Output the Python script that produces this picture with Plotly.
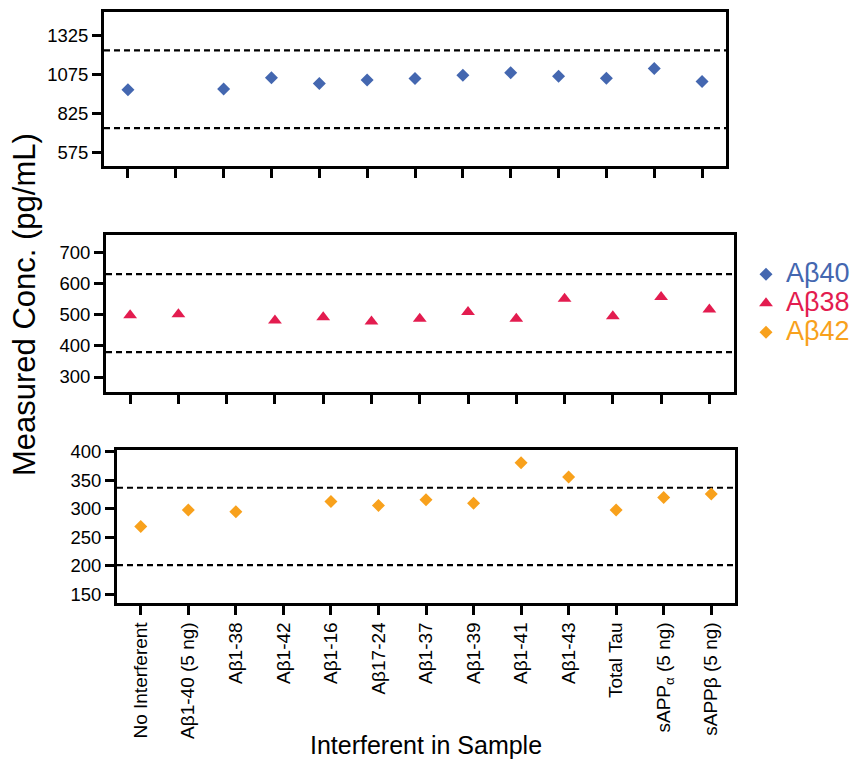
import plotly.graph_objects as go

categories = ["No Interferent", "Aβ1-40 (5 ng)", "Aβ1-38", "Aβ1-42", "Aβ1-16", "Aβ17-24",
              "Aβ1-37", "Aβ1-39", "Aβ1-41", "Aβ1-43", "Total Tau",
              "sAPP<sub>α</sub> (5 ng)", "sAPPβ (5 ng)"]

ab40 = [977, None, 982, 1054, 1016, 1039, 1048, 1069, 1086, 1063, 1050, 1112, 1029]
ab38 = [499, 502, None, 482, 493, 479, 488, 510, 488, 552, 496, 558, 518]
ab42 = [269, 298, 295, None, 313, 306, 316, 310, 381, 356, 298, 320, 326]

ref40 = [1229, 732]
ref38 = [632, 380]
ref42 = [337, 201]

ticks40 = [575, 825, 1075, 1325]
ticks38 = [300, 400, 500, 600, 700]
ticks42 = [150, 200, 250, 300, 350, 400]

C40 = "#4467B0"
C38 = "#E31C4F"
C42 = "#F8A11C"
FONT = "Liberation Sans, Arial, sans-serif"

W, H = 856, 761
x_idx = list(range(len(categories)))

def lg(name, color):
    return f"<span style='color:{color};font-size:27px'>{name}</span>"

fig = go.Figure()
fig.add_trace(go.Scatter(x=x_idx, y=ab40, mode="markers", xaxis="x", yaxis="y",
                         marker=dict(symbol="diamond", size=10, color=C40),
                         name=lg("Aβ40", C40)))
fig.add_trace(go.Scatter(x=x_idx, y=ab38, mode="markers", xaxis="x2", yaxis="y2",
                         marker=dict(symbol="triangle-up", size=12, color=C38),
                         name=lg("Aβ38", C38)))
fig.add_trace(go.Scatter(x=x_idx, y=ab42, mode="markers", xaxis="x3", yaxis="y3",
                         marker=dict(symbol="diamond", size=10, color=C42),
                         name=lg("Aβ42", C42)))

def px_dom_x(a, b):
    return [a / W, b / W]

def px_dom_y(top, bottom):
    return [1 - bottom / H, 1 - top / H]

axis_common = dict(showline=True, linecolor="black", linewidth=3, mirror=True,
                   ticks="outside", ticklen=9, tickwidth=2.5, tickcolor="black",
                   showgrid=False, zeroline=False)
yfont = dict(family=FONT, size=18.5, color="black")
xfont = dict(family=FONT, size=19, color="black")

xrange = [-0.5, 12.5]

layout = dict(
    width=W, height=H, autosize=False,
    margin=dict(l=0, r=0, t=0, b=0),
    paper_bgcolor="white", plot_bgcolor="white",
    showlegend=True,
    legend=dict(x=746 / W, y=1 - 250 / H, xanchor="left", yanchor="top",
                font=dict(family=FONT, size=20), tracegroupgap=0,
                bgcolor="rgba(0,0,0,0)"),
    xaxis=dict(domain=px_dom_x(104, 726), range=xrange, anchor="y",
               tickvals=x_idx, showticklabels=False, **axis_common),
    yaxis=dict(domain=px_dom_y(4, 160), range=[490, 1474], anchor="x",
               tickvals=ticks40, tickfont=yfont, **axis_common),
    xaxis2=dict(domain=px_dom_x(106, 733.5), range=xrange, anchor="y2",
                tickvals=x_idx, showticklabels=False, **axis_common),
    yaxis2=dict(domain=px_dom_y(230, 389), range=[252, 758], anchor="x2",
                tickvals=ticks38, tickfont=yfont, **axis_common),
    xaxis3=dict(domain=px_dom_x(117, 735), range=xrange, anchor="y3",
                tickvals=x_idx, ticktext=categories, tickangle=-90,
                tickfont=xfont, **axis_common),
    yaxis3=dict(domain=px_dom_y(447.5, 602.7), range=[135, 404], anchor="x3",
                tickvals=ticks42, tickfont=yfont, **axis_common),
)
fig.update_layout(**layout)

shapes = []
for xr, yr, vals in [("x", "y", ref40), ("x2", "y2", ref38), ("x3", "y3", ref42)]:
    for v in vals:
        shapes.append(dict(type="line", xref=f"{xr} domain", yref=yr, x0=0, x1=1, y0=v, y1=v,
                           line=dict(color="black", width=2.2, dash="6px,4px"), layer="below"))
fig.update_layout(shapes=shapes)

fig.add_annotation(text="Measured Conc. (pg/mL)", xref="paper", yref="paper",
                   x=24 / W, y=1 - 301 / H, showarrow=False, textangle=-90,
                   font=dict(family=FONT, size=31, color="black"),
                   xanchor="center", yanchor="middle")
fig.add_annotation(text="Interferent in Sample", xref="paper", yref="paper",
                   x=426 / W, y=1 - 747 / H, showarrow=False,
                   font=dict(family=FONT, size=25, color="black"),
                   xanchor="center", yanchor="middle")

fig.write_html("out.html", config={"displayModeBar": False},
               post_script="document.body.style.margin='0';document.body.style.overflow='hidden';")
